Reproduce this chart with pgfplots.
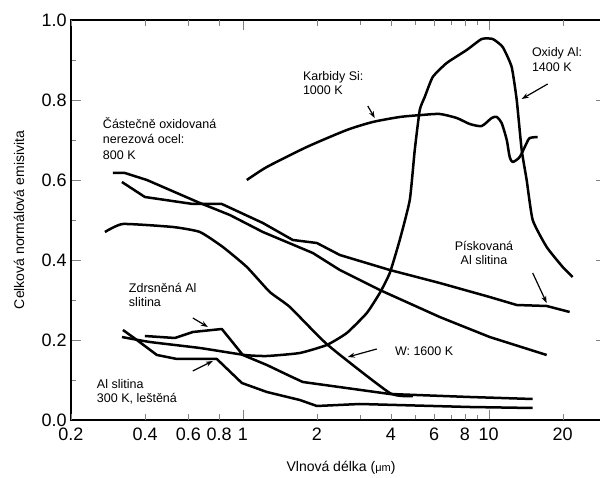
\documentclass[border=0pt]{standalone}
\usepackage{fontspec}
\setmainfont{Liberation Sans}
\usepackage{pgfplots}
\pgfplotsset{compat=1.18}
\usetikzlibrary{arrows.meta}

\pgfplotstableread{
x y
0.2961 0.6175
0.3314 0.6175
0.4072 0.600
0.6687 0.5425
0.8855 0.5125
1.206 0.470
1.926 0.4175
2.48 0.375
3.606 0.325
6.322 0.2575
10.09 0.2075
17.21 0.1625
}\steel

\pgfplotstableread{
x y
0.3222 0.595
0.3996 0.5575
0.6261 0.540
0.8214 0.540
1.206 0.4925
1.597 0.450
2.0 0.4425
2.48 0.4125
3.96 0.375
6.322 0.3425
10.09 0.3075
13.0 0.2875
17.21 0.285
21.35 0.27
}\sand

\pgfplotstableread{
x y
0.2748 0.47
0.3252 0.49
0.5194 0.4825
0.6687 0.47
0.8292 0.4325
1.038 0.3825
1.287 0.32
1.553 0.2825
2.216 0.1875
3.96 0.0675
4.911 0.06
}\tungsten

\pgfplotstableread{
x y
0.3222 0.2075
0.4188 0.195
0.6687 0.18
1.019 0.1625
1.252 0.16
1.705 0.1675
2.195 0.1875
2.648 0.2175
3.193 0.2675
3.606 0.3175
3.96 0.3675
4.347 0.45
4.775 0.55
5.003 0.675
5.243 0.775
5.493 0.8075
5.921 0.8575
6.75 0.8925
8.138 0.925
9.367 0.9525
10.38 0.9525
11.40 0.9325
12.40 0.8825
13.0 0.80
13.62 0.675
14.27 0.60
15.10 0.50
17.21 0.4325
20.0 0.3825
21.95 0.3575
}\aloxide

\pgfplotstableread{
x y
1.038 0.60
1.252 0.6325
1.820 0.6825
2.648 0.725
3.377 0.745
4.347 0.7575
5.342 0.7625
6.322 0.765
7.413 0.755
8.373 0.74
9.367 0.735
10.28 0.755
10.78 0.7575
11.29 0.7425
11.84 0.70
12.17 0.6575
12.52 0.645
13.37 0.6575
14.27 0.6925
14.68 0.705
15.82 0.7075
}\sic

\pgfplotstableread{
x y
0.3996 0.21
0.5292 0.205
0.6261 0.22
0.8214 0.2275
1.0 0.1625
1.252 0.1375
1.553 0.11
1.754 0.095
3.96 0.065
8.373 0.0575
15.10 0.0525
}\rough

\pgfplotstableread{
x y
0.3252 0.225
0.3708 0.20
0.4471 0.1625
0.5391 0.1525
0.7839 0.1525
0.9907 0.0925
1.252 0.07
1.705 0.05
2.0 0.035
2.99 0.04
8.373 0.0325
15.10 0.03
}\polished

\begin{document}
\begin{tikzpicture}
\begin{axis}[name=ax,
  scale only axis, width=535pt, height=400pt,
  xmode=log, xmin=0.2, xmax=30, ymin=0, ymax=1,
  line width=2pt,
  tick align=inside,
  xtick={1,10}, xticklabels={1,10},
  extra x ticks={0.2,0.4,0.6,0.8,2,4,6,8,20},
  extra x tick labels={0.2,0.4,0.6,0.8,2,4,6,8,20},
  extra x tick style={major tick length=6pt},
  major tick length=10pt, minor tick length=5pt,
  ytick={0,0.2,0.4,0.6,0.8,1}, yticklabels={0.0,0.2,0.4,0.6,0.8,1.0},
  minor ytick={0.1,0.3,0.5,0.7,0.9},
  tick label style={font=\fontsize{18}{20}\selectfont},
  x tick label style={yshift=-4pt},
  /pgf/number format/assume math mode=true,
  xlabel={Vlnová délka ({\fontsize{11}{12}\selectfont μm})},
  ylabel={Celková normálová emisivita},
  x label style={at={(axis description cs:0.5047,-0.13)}, anchor=base, font=\fontsize{14}{16}\selectfont},
  y label style={at={(axis description cs:-0.0972,0.5)}, anchor=center, font=\fontsize{14}{16}\selectfont},
  every node/.append style={text=black},
]
\addplot[line width=2.5pt, line join=round] table {\steel};
\addplot[line width=2.5pt, line join=round] table {\sand};
\addplot[line width=2.5pt, line join=round, smooth, tension=0.3] table {\tungsten};
\addplot[line width=2.5pt, line join=round, smooth, tension=0.3] table {\aloxide};
\addplot[line width=2.5pt, line join=round, smooth, tension=0.4] table {\sic};
\addplot[line width=2.5pt, line join=round] table {\rough};
\addplot[line width=2.5pt, line join=round] table {\polished};

\begin{scope}[line width=1.2pt, -{Stealth[length=7pt,width=5pt]}]
\draw (axis cs:3.222,0.785) -- (axis cs:3.44,0.755);
\draw (axis cs:17.37,0.84) -- (axis cs:13.62,0.8025);
\draw (axis cs:15.10,0.3675) -- (axis cs:17.21,0.2925);
\draw (axis cs:3.505,0.1775) -- (axis cs:2.673,0.1575);
\draw (axis cs:0.6261,0.255) -- (axis cs:0.7209,0.2325);
\draw (axis cs:0.6261,0.1225) -- (axis cs:0.7551,0.1475);
\end{scope}

\begin{scope}[every node/.style={inner sep=0pt, font=\fontsize{12.5}{14}\selectfont}]
\node[anchor=base west] at (rel axis cs:0.05794,0.72875) {Částečně oxidovaná};
\node[anchor=base west] at (rel axis cs:0.05794,0.69) {nerezová ocel:};
\node[anchor=base west] at (rel axis cs:0.05794,0.65125) {800 K};
\node[anchor=base west] at (rel axis cs:0.43178,0.84875) {Karbidy Si:};
\node[anchor=base west] at (rel axis cs:0.43178,0.81375) {1000 K};
\node[anchor=base west] at (rel axis cs:0.85981,0.9075) {Oxidy Al:};
\node[anchor=base west] at (rel axis cs:0.85981,0.87125) {1400 K};
\node[anchor=base] at (rel axis cs:0.77196,0.4225) {Pískovaná};
\node[anchor=base] at (rel axis cs:0.77196,0.3875) {Al slitina};
\node[anchor=base west] at (rel axis cs:0.60374,0.16) {W: 1600 K};
\node[anchor=base west] at (rel axis cs:0.10654,0.3175) {Zdrsněná Al};
\node[anchor=base west] at (rel axis cs:0.10654,0.28375) {slitina};
\node[anchor=base west] at (rel axis cs:0.04673,0.07875) {Al slitina};
\node[anchor=base west] at (rel axis cs:0.04673,0.0425) {300 K, leštěná};
\end{scope}
\end{axis}
\pgfresetboundingbox
\path[use as bounding box] ([xshift=-71pt,yshift=-58pt]ax.south west) rectangle ([xshift=529pt,yshift=420pt]ax.south west);
\end{tikzpicture}
\end{document}
